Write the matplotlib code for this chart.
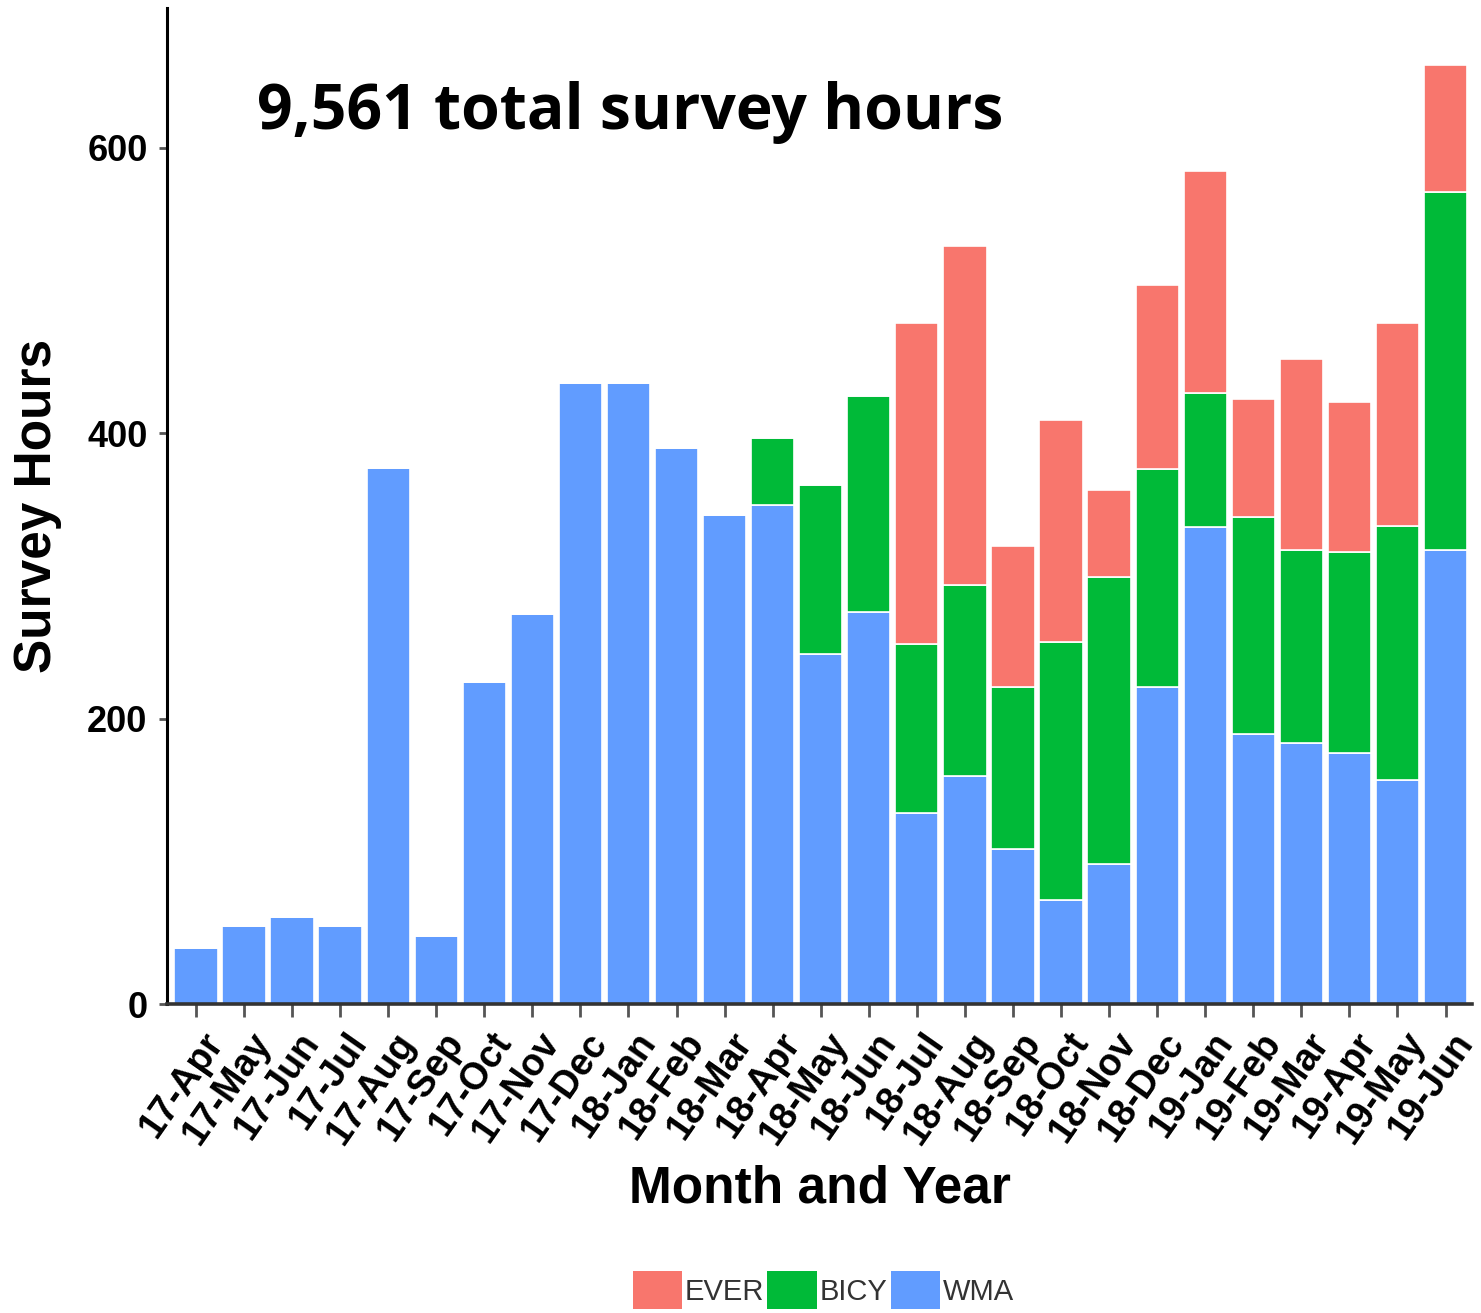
import matplotlib
matplotlib.use("Agg")
import matplotlib.pyplot as plt
import matplotlib.transforms as mtransforms
from matplotlib.patches import Patch
import numpy as np

months = ["17-Apr", "17-May", "17-Jun", "17-Jul", "17-Aug", "17-Sep", "17-Oct",
          "17-Nov", "17-Dec", "18-Jan", "18-Feb", "18-Mar", "18-Apr", "18-May",
          "18-Jun", "18-Jul", "18-Aug", "18-Sep", "18-Oct", "18-Nov", "18-Dec",
          "19-Jan", "19-Feb", "19-Mar", "19-Apr", "19-May", "19-Jun"]
wma = [39, 55, 61, 55, 376, 48, 226, 273, 435, 435, 390, 343, 350, 245,
       275, 134, 160, 109, 73, 98, 222, 334, 189, 183, 176, 157, 318]
bicy = [0, 0, 0, 0, 0, 0, 0, 0, 0, 0, 0, 0, 47, 119,
        151, 118, 134, 113, 181, 201, 153, 94, 152, 135, 141, 178, 251]
ever = [0, 0, 0, 0, 0, 0, 0, 0, 0, 0, 0, 0, 0, 0,
        0, 225, 237, 99, 155, 61, 129, 156, 83, 134, 105, 142, 89]
series_names = ["EVER", "BICY", "WMA"]
colors = {"EVER": "#F8766D", "BICY": "#00BA38", "WMA": "#619CFF"}
title_text = "9,561 total survey hours"

fig = plt.figure(figsize=(14.81, 13.13), dpi=100)
ax = fig.add_axes([0.1128, 0.2353, 0.8811, 0.7586])

x = np.arange(len(months))
wma_a = np.array(wma, float)
bicy_a = np.array(bicy, float)
ever_a = np.array(ever, float)
kw = dict(width=0.9, edgecolor="white", linewidth=1.2)
ax.bar(x, wma_a, color=colors["WMA"], **kw)
ax.bar(x, bicy_a, bottom=wma_a, color=colors["BICY"], **kw)
ax.bar(x, ever_a, bottom=wma_a + bicy_a, color=colors["EVER"], **kw)

ax.set_xlim(-0.6, len(months) - 0.45)
ax.set_ylim(0, 698)
ax.set_yticks([0, 200, 400, 600])
ax.set_xticks(x)
ax.set_xticklabels(months, rotation=55, ha="right", va="center",
                   rotation_mode="anchor", fontsize=27, fontweight="bold",
                   family="Liberation Sans")
for lab in ax.get_yticklabels():
    lab.set_fontsize(26)
    lab.set_fontweight("bold")
    lab.set_family("Liberation Sans")

for s in ["top", "right"]:
    ax.spines[s].set_visible(False)
ax.spines["left"].set_color("black")
ax.spines["left"].set_linewidth(2.2)
ax.spines["bottom"].set_color("#333333")
ax.spines["bottom"].set_linewidth(2.6)
ax.tick_params(axis="x", length=9, width=2, color="#555555", pad=14)
ax.tick_params(axis="y", length=6, width=2, color="#555555", pad=8)

ax.set_xlabel("Month and Year", fontsize=37, fontweight="bold",
              family="Liberation Sans", labelpad=10)
ax.set_ylabel("Survey Hours", fontsize=37, fontweight="bold",
              family="Liberation Sans", labelpad=18)

ax.text(0.069, 0.895, title_text, transform=ax.transAxes, fontsize=45,
        fontweight="bold", family="Open Sans", ha="left", va="center")

handles = [Patch(facecolor=colors[n], edgecolor="none") for n in series_names]
fig.legend(handles, series_names, loc="center", bbox_to_anchor=(0.556, 0.0175),
           ncol=3, frameon=False, handlelength=1.7,
           handleheight=1.65, handletextpad=0.1, columnspacing=0.1,
           labelcolor="#333333", prop={"family": "Liberation Sans", "size": 21})

fig.canvas.draw()
offset = mtransforms.ScaledTranslation(0.2, 0.0, fig.dpi_scale_trans)
for tick in ax.xaxis.get_major_ticks():
    tick.label1.set_transform(tick.label1.get_transform() + offset)

fig.savefig("out.png", dpi=100)
